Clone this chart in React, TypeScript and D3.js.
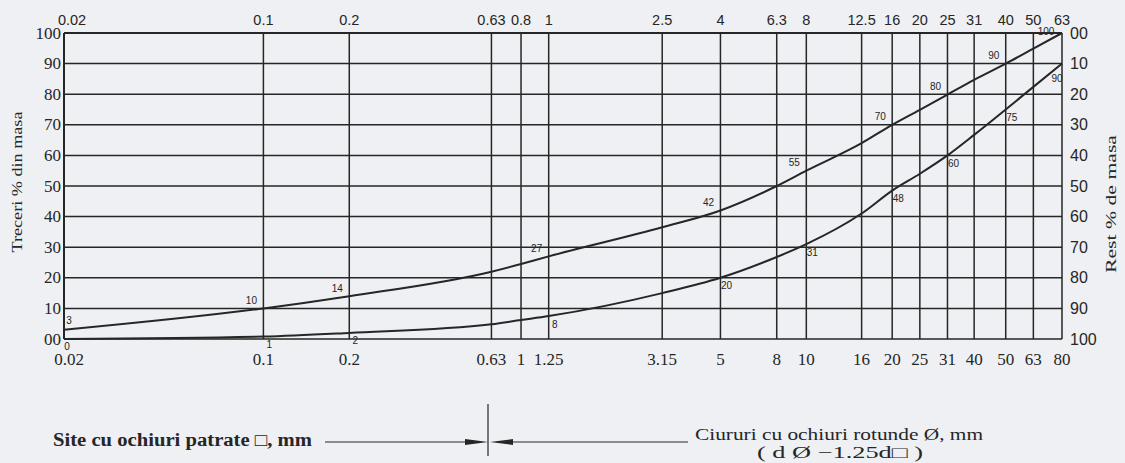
import * as d3 from "d3";

// Square-mesh sieve sizes (mm) — the vertical grid lines, labelled on top
const SIEVES = [0.02, 0.1, 0.2, 0.63, 0.8, 1, 2.5, 4, 6.3, 8, 12.5, 16, 20, 25, 31, 40, 50, 63];
const TOP_LABELS = ["0.02", "0.1", "0.2", "0.63", "0.8", "1", "2.5", "4", "6.3", "8", "12.5", "16", "20", "25", "31", "40", "50", "63"];
// Round-hole equivalents (d Ø = 1.25 d□), labelled on the bottom
const BOTTOM_LABELS = ["0.02", "0.1", "0.2", "0.63", "1", "1.25", "3.15", "5", "8", "10", "16", "20", "25", "31", "40", "50", "63", "80"];

const PASS_TICKS = [0, 10, 20, 30, 40, 50, 60, 70, 80, 90, 100];
const LEFT_LABELS = ["00", "10", "20", "30", "40", "50", "60", "70", "80", "90", "100"];
const RIGHT_LABELS = ["100", "90", "80", "70", "60", "50", "40", "30", "20", "10", "00"];

// Passing %, one value per sieve
const UPPER_CURVE = [3, 10, 14, 22, 24.5, 27, 36.5, 42, 50, 55, 64, 70, 74.9, 79.9, 84.7, 90, 94.9, 100];
const LOWER_CURVE = [0, 0.8, 2, 4.8, 6.2, 7.5, 15, 20, 26.8, 31, 41, 48.5, 54, 60, 66.7, 75, 82.4, 90];

const UPPER_MARK_SIEVES = [0.02, 0.1, 0.2, 1, 4, 8, 16, 25, 40, 63];
const UPPER_MARKS = ["3", "10", "14", "27", "42", "55", "70", "80", "90", "100"];
const LOWER_MARK_SIEVES = [0.02, 0.1, 0.2, 1, 4, 8, 16, 25, 40, 63];
const LOWER_MARKS = ["0", "1", "2", "8", "20", "31", "48", "60", "75", "90"];

const W = 1125;
const H = 463;
const PLOT = { left: 64, right: 1062, top: 33, bottom: 339 };

const INK = "#262626";
const BG = "#eef0f3";

// small per-label nudges (the drawing places a few labels by hand)
const UPPER_NUDGE: Record<string, [number, number]> = { "3": [5, -9], "100": [-16, -2] };
const LOWER_NUDGE: Record<string, [number, number]> = { "90": [-5, 15], "0": [3, 7] };
const TOP_NUDGE: Record<string, number> = { "0.02": 8 };
const BOTTOM_NUDGE: Record<string, number> = { "0.02": 5 };

export default function App() {
  const x = d3.scaleLog().domain([0.02, 63]).range([PLOT.left, PLOT.right]);
  const y = d3.scaleLinear().domain([0, 100]).range([PLOT.bottom, PLOT.top]);

  const line = d3
    .line<number>()
    .x((_, i) => x(SIEVES[i]))
    .y((d) => y(d))
    .curve(d3.curveMonotoneX);

  const valueAt = (curve: number[], s: number) => curve[SIEVES.indexOf(s)];

  const sans = "'Liberation Sans', Arial, sans-serif";
  const serif = "'Liberation Serif', 'Times New Roman', serif";

  return (
    <svg
      width={W}
      height={H}
      viewBox={`0 0 ${W} ${H}`}
      style={{ position: "absolute", left: 0, top: 0, background: BG }}
    >
      <rect x={0} y={0} width={W} height={H} fill={BG} />

      {/* horizontal grid */}
      {PASS_TICKS.map((t) => (
        <line
          key={`h${t}`}
          x1={PLOT.left}
          x2={PLOT.right}
          y1={y(t)}
          y2={y(t)}
          stroke={INK}
          strokeWidth={t === 100 ? 2.2 : 1.5}
        />
      ))}

      {/* vertical grid */}
      {SIEVES.map((s, i) => (
        <line
          key={`v${s}`}
          x1={x(s)}
          x2={x(s)}
          y1={PLOT.top}
          y2={PLOT.bottom}
          stroke={INK}
          strokeWidth={i === 0 ? 2 : 1.5}
        />
      ))}

      {/* limit curves */}
      <path d={line(UPPER_CURVE) ?? ""} fill="none" stroke={INK} strokeWidth={2} />
      <path d={line(LOWER_CURVE) ?? ""} fill="none" stroke={INK} strokeWidth={2} />

      {/* curve value marks */}
      <g fontFamily={sans} fontSize={10} fill={INK} textAnchor="middle" dominantBaseline="central">
        {UPPER_MARK_SIEVES.map((s, i) => {
          const lab = UPPER_MARKS[i];
          const [dx, dy] = UPPER_NUDGE[lab] ?? [-12, -8];
          return (
            <text key={`um${i}`} x={x(s) + dx} y={y(valueAt(UPPER_CURVE, s)) + dy}>
              {lab}
            </text>
          );
        })}
        {LOWER_MARK_SIEVES.map((s, i) => {
          const lab = LOWER_MARKS[i];
          const [dx, dy] = LOWER_NUDGE[lab] ?? [6, 8];
          return (
            <text key={`lm${i}`} x={x(s) + dx} y={y(valueAt(LOWER_CURVE, s)) + dy}>
              {lab}
            </text>
          );
        })}
      </g>

      {/* top axis: square mesh */}
      <g fontFamily={sans} fontSize={14.5} fill={INK} textAnchor="middle">
        {SIEVES.map((s, i) => (
          <text key={`t${s}`} x={x(s) + (TOP_NUDGE[TOP_LABELS[i]] ?? 0)} y={25}>
            {TOP_LABELS[i]}
          </text>
        ))}
      </g>

      {/* bottom axis: round holes */}
      <g fontFamily={serif} fontSize={17} fill={INK} textAnchor="middle">
        {SIEVES.map((s, i) => (
          <text key={`b${s}`} x={x(s) + (BOTTOM_NUDGE[BOTTOM_LABELS[i]] ?? 0)} y={365}>
            {BOTTOM_LABELS[i]}
          </text>
        ))}
      </g>

      {/* left axis: passing % */}
      <g fontFamily={serif} fontSize={17} fill={INK} textAnchor="end" dominantBaseline="central">
        {PASS_TICKS.map((t, i) => (
          <text key={`l${t}`} x={61} y={y(t)}>
            {LEFT_LABELS[i]}
          </text>
        ))}
      </g>

      {/* right axis: retained % */}
      <g fontFamily={sans} fontSize={16} fill={INK} textAnchor="start" dominantBaseline="central">
        {PASS_TICKS.map((t, i) => (
          <text key={`r${t}`} x={1070} y={y(t)}>
            {RIGHT_LABELS[i]}
          </text>
        ))}
      </g>

      {/* axis titles */}
      <text
        transform="translate(22,182) rotate(-90)"
        fontFamily={serif}
        fontSize={14}
        fill={INK}
        textAnchor="middle"
        textLength={141}
        lengthAdjust="spacingAndGlyphs"
      >
        Treceri % din masa
      </text>
      <text
        transform="translate(1116,204) rotate(-90)"
        fontFamily={serif}
        fontSize={14}
        fill={INK}
        textAnchor="middle"
        textLength={138}
        lengthAdjust="spacingAndGlyphs"
      >
        Rest  % de masa
      </text>

      {/* bottom legend */}
      <text
        x={53}
        y={446}
        fontFamily={serif}
        fontWeight="bold"
        fontSize={18}
        fill={INK}
        textLength={259}
        lengthAdjust="spacingAndGlyphs"
      >
        Site cu ochiuri patrate □, mm
      </text>
      <line x1={325} x2={468} y1={442} y2={442} stroke={INK} strokeWidth={1} />
      <path d="M465,439 L488,442 L465,445 Z" fill={INK} />
      <line x1={488} x2={488} y1={404} y2={456} stroke={INK} strokeWidth={1.2} />
      <path d="M513,439 L490,442 L513,445 Z" fill={INK} />
      <line x1={510} x2={688} y1={442} y2={442} stroke={INK} strokeWidth={1} />
      <text
        x={839}
        y={440}
        fontFamily={serif}
        fontSize={17}
        fill={INK}
        textAnchor="middle"
        textLength={288}
        lengthAdjust="spacingAndGlyphs"
      >
        Ciururi cu ochiuri rotunde Ø, mm
      </text>
      <text
        x={840}
        y={458}
        fontFamily={serif}
        fontSize={16}
        fill={INK}
        textAnchor="middle"
        textLength={166}
        lengthAdjust="spacingAndGlyphs"
      >
        ( d Ø  −1.25d□ )
      </text>
    </svg>
  );
}
